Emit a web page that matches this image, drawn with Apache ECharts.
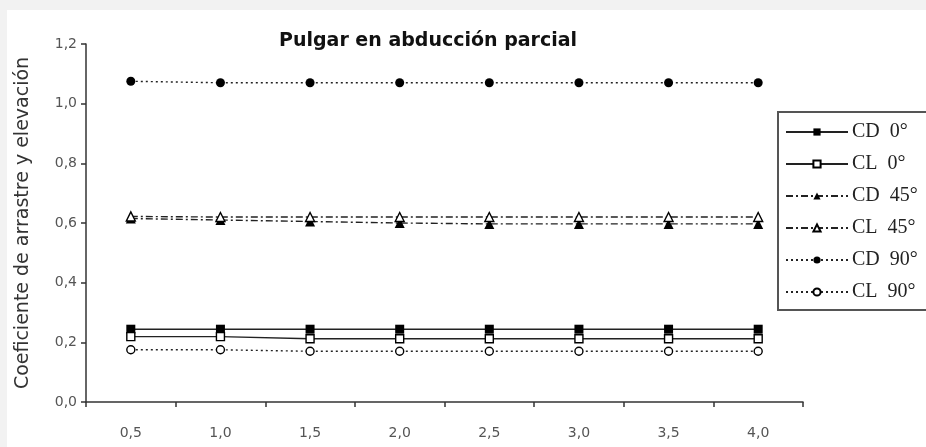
<!DOCTYPE html>
<html>
<head>
<meta charset="utf-8">
<script src="https://cdn.jsdelivr.net/npm/echarts@6/dist/echarts.min.js"></script>
<style>
  html, body { margin: 0; padding: 0; background: #f2f2f2; }
  #chart { width: 926px; height: 447px; }
</style>
</head>
<body>
<div id="chart"></div>
<script>
// Velocity categories (x axis) and their printed labels
const categories = ['0.5', '1.0', '1.5', '2.0', '2.5', '3.0', '3.5', '4.0'];
const xTickLabels = ['0,5', '1,0', '1,5', '2,0', '2,5', '3,0', '3,5', '4,0'];

// Drag (CD) and lift (CL) coefficients at 0°, 45° and 90°
const cd0  = [0.244, 0.244, 0.244, 0.244, 0.244, 0.244, 0.244, 0.244];
const cl0  = [0.219, 0.219, 0.212, 0.212, 0.212, 0.212, 0.212, 0.212];
const cd45 = [0.615, 0.610, 0.605, 0.600, 0.597, 0.597, 0.597, 0.597];
const cl45 = [0.622, 0.620, 0.620, 0.620, 0.620, 0.620, 0.620, 0.620];
const cd90 = [1.075, 1.070, 1.070, 1.070, 1.070, 1.070, 1.070, 1.070];
const cl90 = [0.175, 0.175, 0.170, 0.170, 0.170, 0.170, 0.170, 0.170];

const seriesNames = ['CD  0°', 'CL  0°', 'CD  45°', 'CL  45°', 'CD  90°', 'CL  90°'];

const lineColor = '#222';
const dashDot = [7, 3, 2, 3];
const dotted = [2, 3];

function makeSeries(name, data, symbol, filled, dash, size) {
  return {
    name: name,
    type: 'line',
    data: data,
    symbol: symbol,
    symbolSize: size,
    showAllSymbol: true,
    lineStyle: { color: lineColor, width: 1.4, type: dash },
    itemStyle: {
      color: filled ? '#000' : '#fff',
      borderColor: '#000',
      borderWidth: filled ? 0 : 1.4
    },
    emphasis: { disabled: true },
    animation: false
  };
}

const chart = echarts.init(document.getElementById('chart'), null, { renderer: 'canvas' });

chart.setOption({
  backgroundColor: 'transparent',
  animation: false,
  graphic: [{
    type: 'rect',
    left: 7, top: 10,
    shape: { width: 919, height: 437 },
    style: { fill: '#fff' },
    z: -100
  }],
  title: {
    text: 'Pulgar en abducción parcial',
    left: 274, top: 27,
    textStyle: { fontFamily: 'DejaVu Sans', fontWeight: 'bold', fontSize: 19, color: '#111' }
  },
  legend: {
    orient: 'vertical',
    left: 778, top: 112,
    padding: [10, 20, 8, 7],
    itemWidth: 62,
    itemHeight: 9,
    itemGap: 12,
    backgroundColor: '#fff',
    borderColor: '#555',
    borderWidth: 2,
    selectedMode: false,
    textStyle: { fontFamily: 'Liberation Serif', fontSize: 20, color: '#222', padding: [0, 0, 0, -1] },
    data: seriesNames
  },
  grid: { left: 86, right: 123, top: 44, bottom: 45, containLabel: false },
  xAxis: {
    type: 'category',
    data: categories,
    boundaryGap: true,
    axisLine: { lineStyle: { color: '#333', width: 1.5 } },
    axisTick: { show: true, length: 5, lineStyle: { color: '#333', width: 1.5 } },
    axisLabel: {
      margin: 24,
      fontFamily: 'DejaVu Sans', fontSize: 14, color: '#555',
      formatter: (v, i) => xTickLabels[i]
    }
  },
  yAxis: {
    type: 'value',
    min: 0, max: 1.2, interval: 0.2,
    name: 'Coeficiente de arrastre y elevación',
    nameLocation: 'middle',
    nameGap: 53,
    nameTextStyle: { fontFamily: 'DejaVu Sans', fontSize: 19, color: '#333' },
    axisLine: { show: true, lineStyle: { color: '#333', width: 1.5 } },
    axisTick: { show: true, length: 5, lineStyle: { color: '#333', width: 1.5 } },
    splitLine: { show: false },
    axisLabel: {
      margin: 9,
      fontFamily: 'DejaVu Sans', fontSize: 14, color: '#555',
      formatter: v => v.toFixed(1).replace('.', ',')
    }
  },
  series: [
    makeSeries(seriesNames[0], cd0, 'rect', true, 'solid', 9),
    makeSeries(seriesNames[1], cl0, 'rect', false, 'solid', 8),
    makeSeries(seriesNames[2], cd45, 'triangle', true, dashDot, 10),
    makeSeries(seriesNames[3], cl45, 'triangle', false, dashDot, 9),
    makeSeries(seriesNames[4], cd90, 'circle', true, dotted, 9),
    makeSeries(seriesNames[5], cl90, 'circle', false, dotted, 8)
  ]
});
</script>
</body>
</html>
